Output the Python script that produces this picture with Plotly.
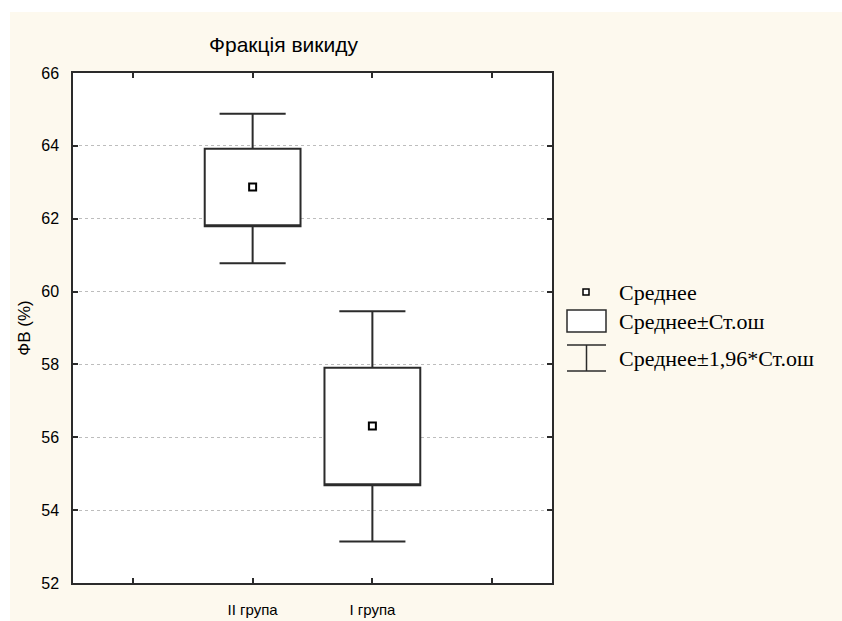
import plotly.graph_objects as go

# values
groups     = ["II група", "I група"]
means      = [62.87, 56.31]
se_low     = [61.79, 54.68]   # mean - SE
se_high    = [63.92, 57.91]   # mean + SE
ci_low     = [60.78, 53.14]   # mean - 1.96*SE
ci_high    = [64.88, 59.46]   # mean + 1.96*SE

y_ticks    = [52, 54, 56, 58, 60, 62, 64, 66]
legend_txt = ["Среднее", "Среднее±Ст.ош", "Среднее±1,96*Ст.ош"]

CREAM = "#FDF9EE"
INK   = "#2b2b2b"

# plot area in pixels (842x621 page)
L, R, T, B = 73, 552, 73, 583
W, H = 842, 621

xs = [i + 1 for i in range(len(groups))]


def px(x):
    return (x - L) / (R - L)


def py(y):
    return (B - y) / (B - T)


fig = go.Figure()

fig.add_trace(go.Box(
    x=xs, q1=se_low, median=se_low, q3=se_high,
    lowerfence=ci_low, upperfence=ci_high,
    width=0.8, whiskerwidth=0.69,
    fillcolor="white", line=dict(color=INK, width=2),
    boxpoints=False, showlegend=False, hoverinfo="skip",
))

fig.add_trace(go.Scatter(
    x=xs, y=means, mode="markers",
    marker=dict(symbol="square-open", size=7, color="black",
                line=dict(width=2, color="black")),
    showlegend=False,
))

# thin white strips at top/left of the cream page
shapes = [
    dict(type="rect", xref="paper", yref="paper", layer="below",
         x0=px(-5), x1=px(W + 5), y0=py(12), y1=py(-5),
         fillcolor="white", line=dict(width=0)),
    dict(type="rect", xref="paper", yref="paper", layer="below",
         x0=px(-5), x1=px(10), y0=py(H + 5), y1=py(-5),
         fillcolor="white", line=dict(width=0)),
]

# hand-drawn legend, as in the original
shapes += [
    dict(type="rect", xref="paper", yref="paper",
         x0=px(583), x1=px(589), y0=py(289), y1=py(295),
         line=dict(color="black", width=1.5), fillcolor="white"),
    dict(type="rect", xref="paper", yref="paper",
         x0=px(567), x1=px(606), y0=py(310), y1=py(332),
         line=dict(color=INK, width=1.5), fillcolor="white"),
    dict(type="line", xref="paper", yref="paper",
         x0=px(567), x1=px(606), y0=py(345), y1=py(345),
         line=dict(color=INK, width=1.5)),
    dict(type="line", xref="paper", yref="paper",
         x0=px(567), x1=px(606), y0=py(371), y1=py(371),
         line=dict(color=INK, width=1.5)),
    dict(type="line", xref="paper", yref="paper",
         x0=px(586.5), x1=px(586.5), y0=py(345), y1=py(371),
         line=dict(color=INK, width=1.5)),
]

annotations = [
    dict(text="Фракція викиду", xref="paper", yref="paper",
         x=px(283), y=py(45), showarrow=False, xanchor="center", yanchor="middle",
         font=dict(family="Liberation Sans", size=21, color="black")),
]
for txt, yy in zip(legend_txt, [292, 321, 358]):
    annotations.append(dict(
        text=txt, xref="paper", yref="paper", x=px(617), y=py(yy),
        showarrow=False, xanchor="left", yanchor="middle",
        font=dict(family="Liberation Serif", size=22, color="black"),
    ))

fig.update_layout(
    width=W, height=H,
    margin=dict(l=L, r=W - R, t=T, b=H - B, pad=0, autoexpand=False),
    paper_bgcolor=CREAM, plot_bgcolor="white",
    shapes=shapes, annotations=annotations,
    font=dict(family="Liberation Sans", size=14, color="black"),
)

fig.update_xaxes(
    range=[-0.5, 3.5], tickvals=[0] + xs + [len(xs) + 1],
    ticktext=[""] + groups + [""],
    ticks="inside", ticklen=5, tickcolor=INK, tickwidth=1.5,
    showline=True, linecolor=INK, linewidth=1.5, mirror="ticks",
    showgrid=False, zeroline=False, ticklabelstandoff=12,
    tickfont=dict(family="Liberation Sans Narrow, Liberation Sans", size=15),
)
fig.update_yaxes(
    range=[52, 66], tickvals=y_ticks,
    ticks="inside", ticklen=5, tickcolor=INK, tickwidth=1.5,
    showline=True, linecolor=INK, linewidth=1.5, mirror="ticks",
    showgrid=True, gridcolor="#bdbdbd", griddash="dot", gridwidth=1,
    zeroline=False, ticklabelstandoff=9,
    title=dict(text="ФВ (%)", standoff=6, font=dict(size=17)),
    tickfont=dict(size=16),
)

fig.write_html(
    "out.html",
    config={"displayModeBar": False},
    post_script=(
        "document.body.style.margin='0';"
        "document.body.style.background='" + CREAM + "';"
    ),
)
